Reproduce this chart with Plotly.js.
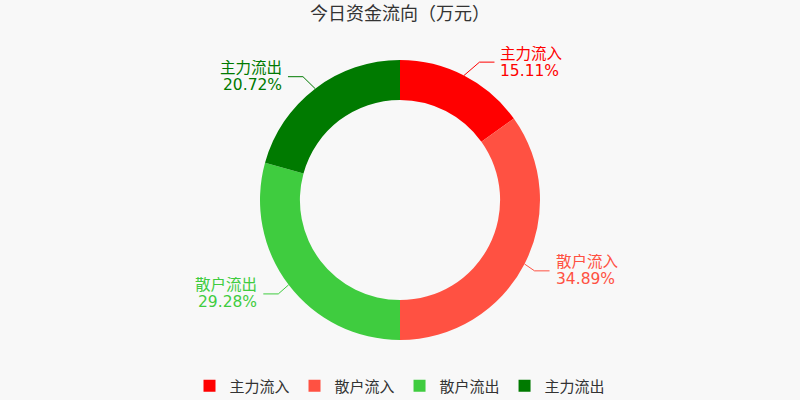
<!DOCTYPE html>
<html>
<head>
<meta charset="utf-8">
<script src="https://cdn.plot.ly/plotly-3.0.1.min.js"></script>
<style>
  html, body { margin: 0; padding: 0; background: #f8f8f8; }
  #myDiv { width: 800px; height: 400px; }
</style>
</head>
<body>
<div id="myDiv"></div>
<script>
// 今日资金流向, shares in percent
var categories = ['主力流入', '散户流入', '散户流出', '主力流出'];
var shares = [15.11, 34.89, 29.28, 20.72];
var colors = ['#ff0000', '#ff5142', '#3fcc3f', '#007a00'];

var W = 800, H = 400;
var cx = 400, cy = 200, R = 140;   // donut centre / outer radius in px
var len1 = 15, len2 = 15, gap = 5; // label line pieces
var fontFam = 'DejaVu Sans, "Noto Sans CJK SC", sans-serif';

var donut = {
	type: 'pie',
	labels: categories,
	values: shares,
	marker: {colors: colors},
	hole: 0.715,
	sort: false,
	direction: 'clockwise',
	rotation: 0,
	textinfo: 'none',
	hoverinfo: 'skip',
	domain: {x: [0, 1], y: [(H - cy - R) / H, (H - cy + R) / H]}
};

// label lines + labels from the slice mid angles
// (label x put on a circle of radius R+len1+len2 at the label's height)
var shapes = [];
var annotations = [];
var total = shares.reduce(function (a, b) { return a + b; }, 0);
var cum = 0;

function px(x) { return x / W; }
function py(y) { return 1 - y / H; }

shares.forEach(function (v, i) {
	var mid = (cum + v / 2) / total * 2 * Math.PI;
	cum += v;
	var s = Math.sin(mid), c = Math.cos(mid);
	var dir = s >= 0 ? 1 : -1;
	var x0 = cx + R * s, y0 = cy - R * c;
	var ly = cy - (R + len1) * c;
	var dy = Math.abs(ly - cy);
	var rr = R + len1 + len2;
	var lx = cx + dir * Math.sqrt(rr * rr - dy * dy);
	var x2 = lx - dir * gap;
	var x1 = x2 - dir * len2;

	shapes.push({
		type: 'path',
		xref: 'paper', yref: 'paper',
		path: 'M' + px(x0) + ',' + py(y0) + ' L' + px(x1) + ',' + py(ly) + ' L' + px(x2) + ',' + py(ly),
		line: {color: colors[i], width: 1}
	});

	var lines = [categories[i], v.toFixed(2) + '%'];
	lines.forEach(function (t, k) {
		annotations.push({
			showarrow: false,
			xref: 'paper', yref: 'paper',
			x: px(lx),
			y: py(ly + (k === 0 ? -8.5 : 8.5)),
			xanchor: dir > 0 ? 'left' : 'right',
			yanchor: 'middle',
			height: 16,
			borderpad: 0,
			text: t,
			font: {family: fontFam, size: 15.5, color: colors[i]}
		});
	});
});

var layout = {
	width: W,
	height: H,
	margin: {l: 0, r: 0, t: 0, b: 0, autoexpand: false},
	paper_bgcolor: '#f8f8f8',
	plot_bgcolor: '#f8f8f8',
	font: {family: fontFam, color: '#333'},
	title: {
		text: '今日资金流向（万元）',
		font: {family: fontFam, size: 18, color: '#333'},
		x: 0.5, xanchor: 'center',
		y: 1 - 14 / H, yanchor: 'middle', yref: 'container'
	},
	showlegend: true,
	legend: {
		orientation: 'h',
		x: 0.5, xanchor: 'center',
		y: 14 / H, yanchor: 'middle',
		font: {family: fontFam, size: 15, color: '#333'},
		traceorder: 'normal'
	},
	shapes: shapes,
	annotations: annotations
};

var config = {
	staticPlot: true,
	displaylogo: false
};

Plotly.newPlot('myDiv', [donut], layout, config);
</script>
</body>
</html>
